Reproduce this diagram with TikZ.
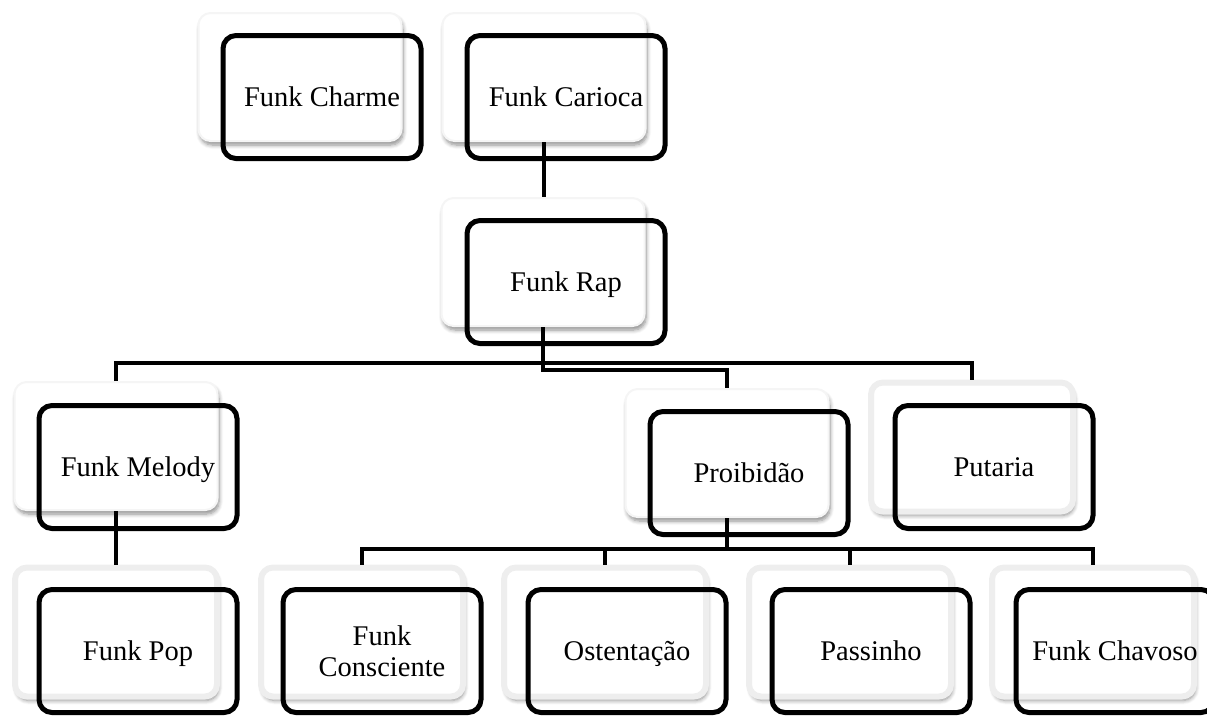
\documentclass[tikz,border=0pt]{standalone}
\usepackage{fontspec}
\setmainfont{Liberation Serif}
\usetikzlibrary{shadows.blur}
\begin{document}
\begin{tikzpicture}[x=1pt,y=-1pt,
  wbox/.style={rounded corners=12pt, fill=white, draw=gray!8, line width=2pt,
    minimum width=203pt, minimum height=128pt, inner sep=0pt,
    blur shadow={shadow xshift=1.5pt, shadow yshift=-4pt, shadow opacity=45, shadow blur steps=6, shadow blur radius=4pt}},
  wboxlow/.style={wbox, draw=gray!13, line width=6pt, minimum width=202pt, minimum height=129pt},
  bboxbase/.style={rounded corners=13pt, draw=black, line width=5pt,
    minimum width=198pt, minimum height=123pt, inner sep=0pt,
    font=\fontsize{28.5}{31}\selectfont, align=center},
  bbox/.style={bboxbase, text height=21pt, text depth=3pt},
  link/.style={line width=4pt}]
\useasboundingbox (0,0) rectangle (1207,716);
\clip (0,0) rectangle (1207,716);

% bus coordinates
\coordinate (busA) at (543,363);
\coordinate (busB) at (543,370);
\coordinate (busC) at (727,549);

% white (back) boxes
\node[wbox] (charmeW) at (300,77) {};
\node[wbox] (cariocaW) at (544,77) {};
\node[wbox] (rapW) at (543,262) {};
\node[wbox] (melodyW) at (116,446) {};
\node[wbox] (proW) at (727,453) {};
\node[wboxlow] (putW) at (972,447) {};
\node[wboxlow] (popW) at (116,632) {};
\node[wboxlow] (conW) at (362,632) {};
\node[wboxlow] (ostW) at (605,632) {};
\node[wboxlow] (pasW) at (850,632) {};
\node[wboxlow] (chaW) at (1093,632) {};

% connectors
\draw[link] (cariocaW.south) -- (cariocaW.south |- rapW.north);
\draw[link] (melodyW.north) |- (busA) -| (putW.north);
\draw[link] (rapW.south) -- (busB) -| (proW.north);
\draw[link] (melodyW.south) -- (melodyW.south |- popW.north);
\draw[link] (proW.south) -- (busC);
\draw[link] (conW.north) |- (busC) -| (chaW.north);
\draw[link] (ostW.north) -- (ostW.north |- busC);
\draw[link] (pasW.north) -- (pasW.north |- busC);

% black (front) boxes with text
\node[bbox] (charme) at (322,97) {Funk Charme};
\node[bbox] (carioca) at (566,97) {Funk Carioca};
\node[bbox] (rap) at (566,282) {Funk Rap};
\node[bbox] (melody) at (138,467) {Funk Melody};
\node[bbox] (pro) at (749,473) {Proibidão};
\node[bbox] (put) at (994,467) {Putaria};
\node[bbox] (pop) at (138,651) {Funk Pop};
\node[bboxbase] (con) at (382,651) {Funk\\Consciente};
\node[bbox] (ost) at (627,651) {Ostentação};
\node[bbox] (pas) at (871,651) {Passinho};
\node[bbox] (cha) at (1115,651) {Funk Chavoso};
\end{tikzpicture}
\end{document}
